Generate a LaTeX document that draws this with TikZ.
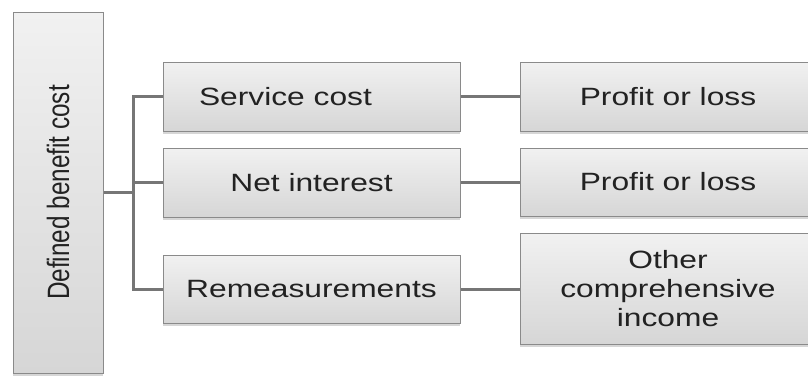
\documentclass[tikz,border=0pt]{standalone}
\usepackage{fontspec}
\usetikzlibrary{shadows}
\newfontfamily\hf[FakeStretch=1.27]{Liberation Sans}
\newfontfamily\nf{Liberation Sans}
\definecolor{boxline}{HTML}{8A8A8A}
\definecolor{conn}{HTML}{767676}
\definecolor{txt}{HTML}{222222}
\definecolor{topc}{HTML}{F1F1F1}
\definecolor{botc}{HTML}{D6D6D6}
\tikzset{
  box/.style={draw=boxline, line width=1pt, top color=topc, bottom color=botc,
    inner sep=0pt, text=txt, font=\hf\fontsize{25}{29}\selectfont, align=center,
    drop shadow={shadow xshift=0pt, shadow yshift=-3pt, fill=black!35, opacity=0.45}},
  link/.style={draw=conn, line width=3pt}
}
\begin{document}
\begin{tikzpicture}[x=1pt,y=-1pt]
\clip (0,0) rectangle (808,376);
\fill[white] (0,0) rectangle (808,376);
\node[box, minimum width=90pt, minimum height=361pt] (dbc) at (58,192.5)
  {\rotatebox{90}{\scalebox{1}[1.27]{\nf\fontsize{24.3}{28}\selectfont Defined benefit cost}}};
\node[box, minimum width=297pt, minimum height=69pt] (sc) at (311.5,96.5)
  {Service cost\hspace*{52pt}};
\node[box, minimum width=297pt, minimum height=69pt] (ni) at (311.5,182.5) {Net interest};
\node[box, minimum width=297pt, minimum height=68pt] (rm) at (311.5,289) {Remeasurements};
\node[box, minimum width=296pt, minimum height=69pt] (pl1) at (668,96.5) {Profit or loss};
\node[box, minimum width=296pt, minimum height=68pt] (pl2) at (668,182) {Profit or loss};
\node[box, minimum width=296pt, minimum height=111pt] (oci) at (668,288.5)
  {Other\\comprehensive\\income};
\coordinate (trunk) at (133,192.5);
\draw[link] (dbc.east) -- (trunk);
\draw[link] (sc.west) -| (trunk) |- (rm.west);
\draw[link] (trunk |- ni.west) -- (ni.west);
\draw[link] (sc.east) -- (pl1.west);
\draw[link] (ni.east) -- (ni.east -| pl2.west);
\draw[link] (rm.east) -- (rm.east -| oci.west);
\end{tikzpicture}
\end{document}
